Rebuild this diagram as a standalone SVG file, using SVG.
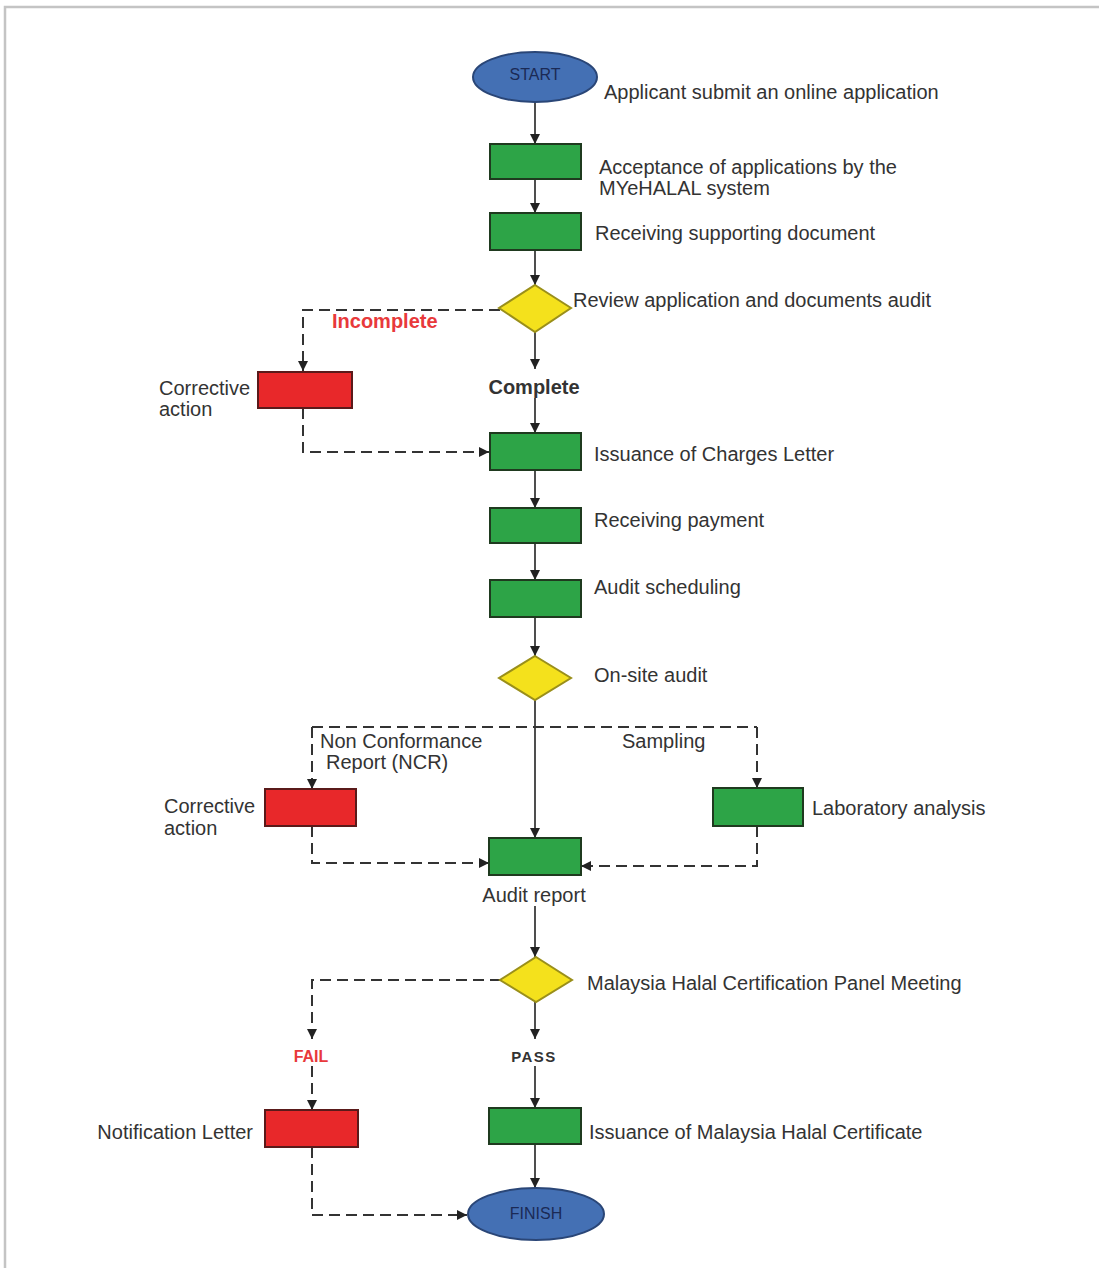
<svg xmlns="http://www.w3.org/2000/svg" width="1099" height="1268" viewBox="0 0 1099 1268">
<defs>
<marker id="ah" viewBox="0 0 10 10" refX="10" refY="5" markerWidth="10" markerHeight="10" markerUnits="userSpaceOnUse" orient="auto"><path d="M0,0 L10,5 L0,10 z" fill="#222"/></marker>
<style>
.box{stroke:#1f3a1f;stroke-width:2}
.g{fill:#2da447}
.r{fill:#e8282a;stroke:#5a1a1a;stroke-width:2}
.d{fill:#f4e11c;stroke:#9a8f1a;stroke-width:2}
.e{fill:#4470b4;stroke:#2a4677;stroke-width:2}
.s{fill:none;stroke:#222;stroke-width:1.6;marker-end:url(#ah)}
.dl{fill:none;stroke:#333;stroke-width:2;stroke-dasharray:11,6;marker-end:url(#ah)}
.dn{fill:none;stroke:#333;stroke-width:2;stroke-dasharray:11,6}
text{font-family:"Liberation Sans",Arial,sans-serif;font-size:20px;fill:#333}
.b{font-weight:bold}
.red{fill:#e8393b}
.et{font-size:16px;fill:#1b2a55}
</style>
</defs>
<rect x="0" y="0" width="1099" height="1268" fill="#fff"/>
<path d="M5,1268 V7 H1099" fill="none" stroke="#c4c4c4" stroke-width="2.5"/>

<g id="connectors">
<path class="s" d="M535,103 V144"/>
<path class="s" d="M535,179 V213"/>
<path class="s" d="M535,250 V285"/>
<path class="s" d="M535,332 V369"/>
<path class="s" d="M535,398 V433"/>
<path class="s" d="M535,470 V508"/>
<path class="s" d="M535,543 V580"/>
<path class="s" d="M535,617 V656"/>
<path class="s" d="M535,700 V838"/>
<path class="s" d="M535,906 V957"/>
<path class="s" d="M535,1002 V1039"/>
<path class="s" d="M535,1066 V1108"/>
<path class="s" d="M535,1144 V1188"/>
<path class="dl" d="M500,310 H303 V371"/>
<path class="dl" d="M303,408 V452 H489"/>
<path class="dn" d="M312,727 H757"/>
<path class="dl" d="M312,727 V789"/>
<path class="dl" d="M757,727 V788"/>
<path class="dl" d="M312,826 V863 H489"/>
<path class="dl" d="M757,826 V866 H581"/>
<path class="dl" d="M501,980 H312 V1039"/>
<path class="dl" d="M312,1066 V1110"/>
<path class="dl" d="M312,1147 V1215 H467"/>
</g>

<g id="start"><ellipse class="e" cx="535" cy="77" rx="62" ry="25"/><text class="et" x="535" y="80" text-anchor="middle">START</text><text x="604" y="99">Applicant submit an online application</text></g>
<g id="accept"><rect class="box g" x="490" y="144" width="91" height="35"/><text x="599" y="174">Acceptance of applications by the</text><text x="599" y="195">MYeHALAL system</text></g>
<g id="receive-doc"><rect class="box g" x="490" y="213" width="91" height="37"/><text x="595" y="240">Receiving supporting document</text></g>
<g id="review"><path class="d" d="M535,285 L571,308 L535,332 L499,308 Z"/><text x="573" y="307">Review application and documents audit</text></g>
<g id="incomplete-label"><text class="b red" x="332" y="328">Incomplete</text></g>
<g id="corrective1"><rect class="r" x="258" y="372" width="94" height="36"/><text x="159" y="395">Corrective</text><text x="159" y="416">action</text></g>
<g id="complete-label"><text class="b" x="534" y="394" text-anchor="middle">Complete</text></g>
<g id="charges"><rect class="box g" x="490" y="433" width="91" height="37"/><text x="594" y="461">Issuance of Charges Letter</text></g>
<g id="payment"><rect class="box g" x="490" y="508" width="91" height="35"/><text x="594" y="527">Receiving payment</text></g>
<g id="scheduling"><rect class="box g" x="490" y="580" width="91" height="37"/><text x="594" y="594">Audit scheduling</text></g>
<g id="onsite"><path class="d" d="M535,656 L571,678 L535,700 L499,678 Z"/><text x="594" y="682">On-site audit</text></g>
<g id="ncr-label"><text x="320" y="748">Non Conformance</text><text x="326" y="769">Report (NCR)</text></g>
<g id="sampling-label"><text x="622" y="748">Sampling</text></g>
<g id="corrective2"><rect class="r" x="265" y="789" width="91" height="37"/><text x="164" y="813">Corrective</text><text x="164" y="835">action</text></g>
<g id="lab"><rect class="box g" x="713" y="788" width="90" height="38"/><text x="812" y="815">Laboratory analysis</text></g>
<g id="audit-report"><rect class="box g" x="489" y="838" width="92" height="37"/><text x="534" y="902" text-anchor="middle">Audit report</text></g>
<g id="panel"><path class="d" d="M536,957 L572,980 L536,1002 L500,980 Z"/><text x="587" y="990">Malaysia Halal Certification Panel Meeting</text></g>
<g id="fail-label"><text class="b red" x="311" y="1062" text-anchor="middle" style="font-size:16px">FAIL</text></g>
<g id="pass-label"><text class="b" x="534" y="1062" text-anchor="middle" style="font-size:15px;letter-spacing:1.5px">PASS</text></g>
<g id="notification"><rect class="r" x="265" y="1110" width="93" height="37"/><text x="253" y="1139" text-anchor="end">Notification Letter</text></g>
<g id="certificate"><rect class="box g" x="489" y="1108" width="92" height="36"/><text x="589" y="1139">Issuance of Malaysia Halal Certificate</text></g>
<g id="finish"><ellipse class="e" cx="536" cy="1214" rx="68" ry="26"/><text class="et" x="536" y="1219" text-anchor="middle">FINISH</text></g>
</svg>
